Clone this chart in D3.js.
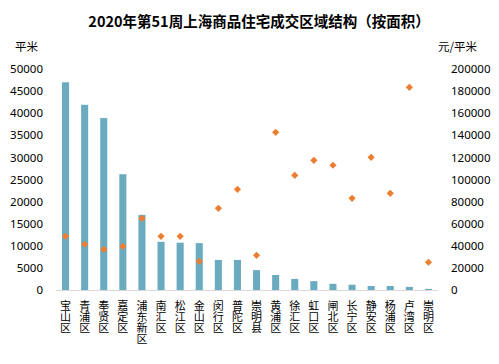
<!DOCTYPE html>
<html>
<head>
<meta charset="utf-8">
<script src="https://cdn.jsdelivr.net/npm/d3@7"></script>
<style>
  body { margin: 0; background: #fff; }
  svg text { font-family: "Noto Sans CJK SC", "Noto Sans", sans-serif; fill: #000; }
</style>
</head>
<body>
<svg width="499" height="364"></svg>
<script>
// districts
var districts = ["宝山区", "青浦区", "奉贤区", "嘉定区", "浦东新区", "南汇区", "松江区", "金山区", "闵行区", "普陀区",
  "崇明县", "黄浦区", "徐汇区", "虹口区", "闸北区", "长宁区", "静安区", "杨浦区", "卢湾区", "崇明区"];
// 成交面积 (平米)
var area = [47000, 41900, 38900, 26200, 17000, 10900, 10700, 10600, 6800, 6800,
  4500, 3400, 2500, 2000, 1400, 1200, 900, 900, 700, 250];
// 成交均价 (元/平米)
var price = [48600, 41400, 36800, 39500, 64900, 48600, 48600, 26000, 73900, 91100,
  31400, 142700, 103800, 117400, 112900, 83000, 120100, 87500, 183400, 25100];
var leftTicks = [0, 5000, 10000, 15000, 20000, 25000, 30000, 35000, 40000, 45000, 50000];
var rightTicks = [0, 20000, 40000, 60000, 80000, 100000, 120000, 140000, 160000, 180000, 200000];

var svg = d3.select("svg");

var x = d3.scaleBand()
  .domain(districts)
  .range([56, 438])
  .paddingInner(0.63)
  .paddingOuter(0.315);
var yL = d3.scaleLinear().domain([0, 50000]).range([290, 69]);
var yR = d3.scaleLinear().domain([0, 200000]).range([290, 69]);

// title
svg.append("text")
  .attr("x", 259)
  .attr("y", 27)
  .attr("text-anchor", "middle")
  .style("font-size", "14.5px")
  .style("font-weight", "bold")
  .text("2020年第51周上海商品住宅成交区域结构（按面积）");

// unit labels
svg.append("text").attr("x", 15).attr("y", 51).style("font-size", "11.5px").text("平米");
svg.append("text").attr("x", 438).attr("y", 51).style("font-size", "11.5px").text("元/平米");

// left axis
var axL = d3.axisLeft(yL).tickValues(leftTicks).tickSize(0).tickPadding(0).tickFormat(d3.format("d"));
var gL = svg.append("g").attr("transform", "translate(43,0)").call(axL);
gL.select(".domain").remove();
gL.selectAll("text").style("font-size", "11.5px").style("font-family", "Noto Sans, sans-serif");

// right axis
var axR = d3.axisRight(yR).tickValues(rightTicks).tickSize(0).tickPadding(0).tickFormat(d3.format("d"));
var gR = svg.append("g").attr("transform", "translate(451,0)").call(axR);
gR.select(".domain").remove();
gR.selectAll("text").style("font-size", "11.5px").style("font-family", "Noto Sans, sans-serif");

// bars
svg.append("g")
  .selectAll("rect")
  .data(area)
  .enter().append("rect")
    .attr("x", function (d, i) { return x(districts[i]); })
    .attr("width", x.bandwidth())
    .attr("y", function (d) { return yL(d); })
    .attr("height", function (d) { return yL(0) - yL(d); })
    .attr("fill", "#6aabbf");

// baseline
svg.append("line")
  .attr("x1", 56).attr("x2", 438)
  .attr("y1", 290.5).attr("y2", 290.5)
  .attr("stroke", "#d9d9d9")
  .attr("stroke-width", 1);

// price markers (square turned 45deg)
var marker = d3.symbol().type(d3.symbolSquare).size(26);
svg.append("g")
  .selectAll("path")
  .data(price)
  .enter().append("path")
    .attr("d", marker)
    .attr("transform", function (d, i) {
      return "translate(" + (x(districts[i]) + x.bandwidth() / 2) + "," + yR(d) + ") rotate(45)";
    })
    .attr("fill", "#ed7d31");

// x labels, written top to bottom
svg.append("g")
  .selectAll("text")
  .data(districts)
  .enter().append("text")
    .attr("x", function (d) { return x(d) + x.bandwidth() / 2; })
    .attr("y", 300)
    .style("writing-mode", "vertical-rl")
    .style("font-size", "11px")
    .text(function (d) { return d; });
</script>
</body>
</html>
